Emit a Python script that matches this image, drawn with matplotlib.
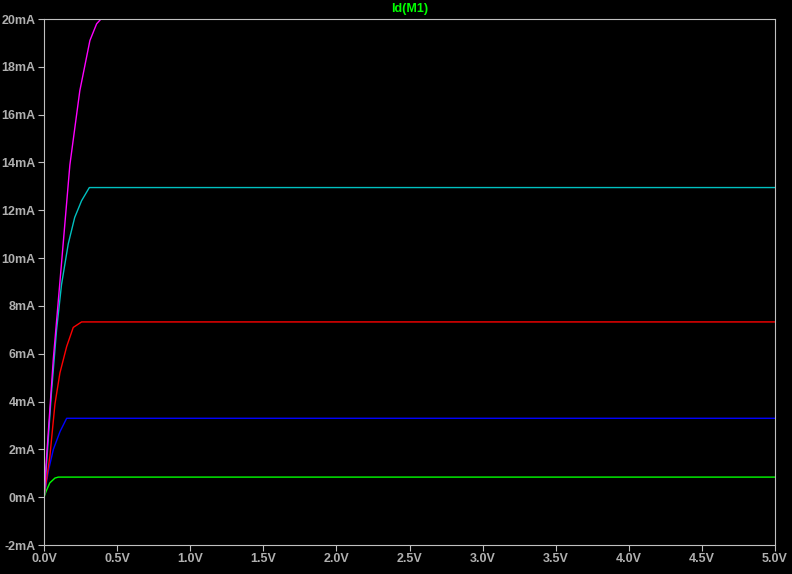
import matplotlib
matplotlib.use("Agg")
import matplotlib.pyplot as plt

# Id(M1) vs Vds, one curve per gate step
mag_v = [0, 0.018, 0.064, 0.12, 0.177, 0.245, 0.314, 0.36, 0.39]
mag_i = [0, 1.7, 5.8, 9.8, 13.9, 17.0, 19.1, 19.8, 20.0]
cyan_v = [0, 0.02, 0.05, 0.086, 0.12, 0.166, 0.21, 0.257, 0.31, 5.0]
cyan_i = [0, 1.6, 4.3, 7.0, 8.9, 10.6, 11.7, 12.4, 12.95, 12.95]
red_v = [0, 0.04, 0.075, 0.109, 0.155, 0.2, 0.257, 5.0]
red_i = [0, 1.7, 3.9, 5.2, 6.3, 7.1, 7.33, 7.33]
blue_v = [0, 0.03, 0.064, 0.11, 0.155, 5.0]
blue_i = [0, 1.1, 2.0, 2.75, 3.3, 3.3]
green_v = [0, 0.018, 0.04, 0.075, 0.098, 5.0]
green_i = [0, 0.3, 0.6, 0.8, 0.84, 0.84]

xticks = [0, 0.5, 1, 1.5, 2, 2.5, 3, 3.5, 4, 4.5, 5]
yticks = list(range(-2, 21, 2))

plt.rcParams['font.family'] = ['Liberation Sans', 'DejaVu Sans']

fig = plt.figure(figsize=(7.92, 5.74), dpi=100, facecolor="black")
ax = fig.add_axes([44/792, 29/574, 731/792, 526/574], facecolor="black")

ax.plot(green_v, green_i, color="#00ff00", lw=1)
ax.plot(blue_v, blue_i, color="#0000ff", lw=1)
ax.plot(red_v, red_i, color="#ff0000", lw=1)
ax.plot(cyan_v, cyan_i, color="#00c0c0", lw=1)
ax.plot(mag_v, mag_i, color="#ff00ff", lw=1)

ax.set_xlim(0, 5)
ax.set_ylim(-2, 20)
ax.set_xticks(xticks)
ax.set_xticklabels([f"{v:.1f}V" for v in xticks])
ax.set_yticks(yticks)
ax.set_yticklabels([f"{v}mA" for v in yticks])
for s in ax.spines.values():
    s.set_color("#c0c0c0")
ax.tick_params(colors="#c0c0c0", labelsize=9, length=4, direction="out", pad=2)
for lab in ax.get_xticklabels() + ax.get_yticklabels():
    lab.set_fontweight("bold")
    lab.set_color("#b0b0b0")

fig.text(0.5 * (44 + 775) / 792, 1 - 9/574, "Id(M1)", color="#00ff00",
         ha="center", va="center", fontsize=9, fontweight="bold")

fig.savefig("out.png", dpi=100, facecolor="black")
